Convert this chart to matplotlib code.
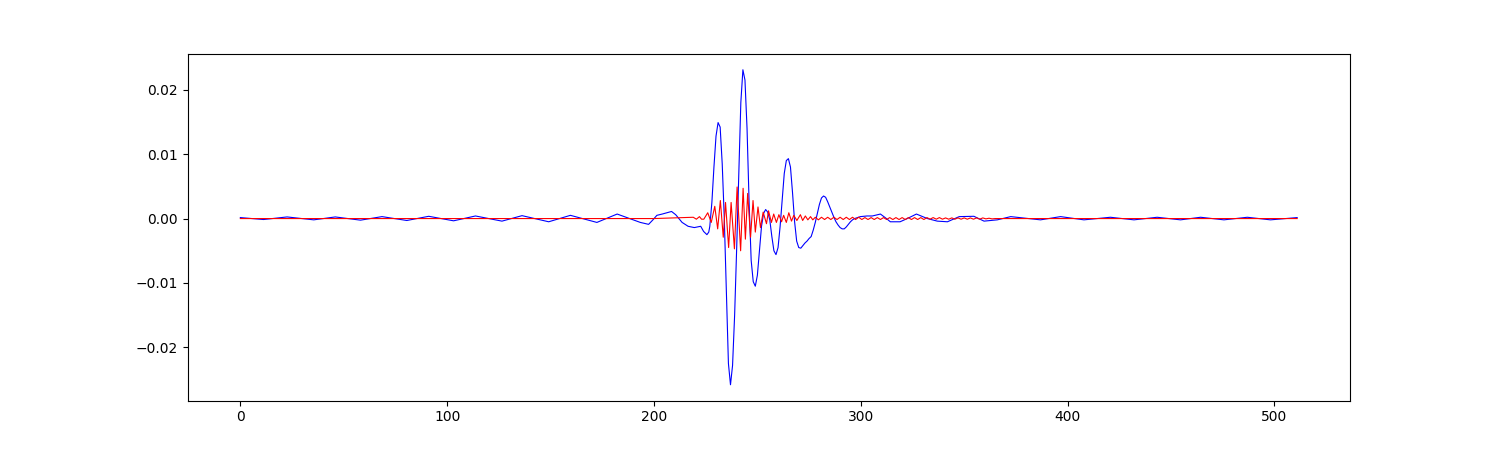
#two signals (blue = broadband, red = high frequency part)
import numpy as np
import matplotlib.pyplot as plt

#blue signal, left tail
blue_left_x = [0, 11.2, 22.6, 35.5, 45.9, 58.1, 68.5, 80.5, 91.1, 103.1, 113.7, 126.5, 136.2,
               149.1, 159.6, 172.4, 182.2, 193.4, 197.4, 199.5, 201.4, 204, 208.5, 210.5, 213.6,
               216.5, 219.5, 222.6, 224, 225.6, 226.5]
blue_left_y = [0.00015, -0.00015, 0.00025, -0.0002, 0.00025, -0.00025, 0.0003, -0.0003, 0.00035,
               -0.00035, 0.0004, -0.0004, 0.00045, -0.0005, 0.0005, -0.0006, 0.0007, -0.0006,
               -0.0009, -0.0002, 0.0005, 0.0007, 0.0011, 0.0006, -0.0006, -0.0012, -0.0014,
               -0.0012, -0.0020, -0.0025, -0.0021]

#blue signal, centre burst
blue_mid_x = [227, 228, 229, 230, 231, 232, 233, 234, 235, 236, 237, 238, 239, 240, 241, 242, 243,
              244, 245, 246, 247, 248, 249, 250, 251, 252, 253, 254, 255, 256, 257, 258, 259, 260,
              261, 262, 263, 264, 265, 266, 267, 268, 269, 270, 271, 272, 273, 274, 275, 276, 277,
              278, 279, 280, 281, 282, 283, 284, 285, 286, 287, 288, 289, 290, 291, 292, 293, 294,
              295, 296, 297]
blue_mid_y = [-0.0012, 0.0025, 0.0080, 0.0128, 0.0149, 0.0142, 0.0085, 0.0000, -0.0115, -0.0225,
              -0.0258, -0.0228, -0.0150, -0.0045, 0.0070, 0.0180, 0.0231, 0.0215, 0.0140, 0.0025,
              -0.0065, -0.0098, -0.0105, -0.0088, -0.0050, -0.0012, 0.0008, 0.0014, 0.0010,
              -0.0002, -0.0028, -0.0050, -0.0056, -0.0045, -0.0012, 0.0030, 0.0070, 0.0090,
              0.0093, 0.0080, 0.0040, -0.0005, -0.0035, -0.0045, -0.0046, -0.0042, -0.0038,
              -0.0035, -0.0031, -0.0028, -0.0018, -0.0006, 0.0008, 0.0022, 0.0032, 0.0035,
              0.0033, 0.0026, 0.0018, 0.0010, 0.0002, -0.0005, -0.0010, -0.0014, -0.0016,
              -0.0016, -0.0013, -0.0009, -0.0005, -0.0002, 0.0000]

#blue signal, right tail
blue_right_x = [299.8, 303, 305.6, 309.5, 312, 314.3, 319, 322.5, 326.9, 332.2, 337, 341.9, 347.6,
                354.7, 359.6, 366, 372.5, 386.9, 396.6, 407.9, 420.7, 432.1, 443.3, 454.6, 464.3,
                475.6, 486.9, 498.1, 511]
blue_right_y = [0.0003, 0.0004, 0.0004, 0.0007, 0.0001, -0.0005, -0.0005, 0.0, 0.0007, 0.0,
                -0.0004, -0.0005, 0.0003, 0.00035, -0.0004, -0.0002, 0.0003, -0.0002, 0.0003,
                -0.0002, 0.0002, -0.0002, 0.0002, -0.0002, 0.0002, -0.0002, 0.0002, -0.0002,
                0.00015]

#red signal, flat start and centre oscillation
red_mid_x = [0, 200, 219, 220.5, 222, 223, 224.1, 226.0, 227.7, 229.4, 230.8, 232.1, 233.5, 234.6,
             236.1, 237.3, 238.9, 240.2, 241.9, 243.1, 244.2, 245.3, 246.7, 247.9, 249.0, 250.3,
             251.5, 252.8, 254.4, 255.4, 256.8, 257.9, 259.2, 260.4, 261.7, 262.7, 264.0, 265.2,
             266.5, 267.6, 269.1, 270.8, 271.9, 273.2, 274.4, 275.7, 276.8]
red_mid_y = [0.0, 0.0, 0.0002, -0.0001, 0.0003, -0.0001, -0.0001, 0.0009, -0.0006, 0.0019,
             -0.0016, 0.0028, -0.0029, 0.0025, -0.0045, 0.0025, -0.0047, 0.0049, -0.0050, 0.0047,
             -0.0032, 0.0039, -0.0029, 0.0028, -0.0021, 0.0018, -0.0014, 0.0010, -0.0008, 0.0012,
             -0.0006, 0.0007, -0.0006, 0.0006, -0.0005, 0.0005, -0.0006, 0.0009, -0.0004, 0.0005,
             -0.0003, 0.0006, -0.0003, 0.0004, -0.0002, 0.0003, -0.0002]

#red signal, small ripple after the burst and flat end
red_right_x = [278.0, 279.5, 281.0, 282.5, 284.0, 285.5, 287.0, 288.5, 290.0, 291.5, 293.0, 294.5,
               296.0, 297.5, 299.0, 300.5, 302.0, 303.5, 305.0, 306.5, 308.0, 309.5, 311.0, 312.5,
               314.0, 315.5, 317.0, 318.5, 320.0, 321.5, 323.0, 324.5, 326.0, 327.5, 329.0, 330.5,
               332.0, 333.5, 335.0, 336.5, 338.0, 339.5, 341.0, 342.5, 344.0, 345.5, 347.0, 348.5,
               350.0, 351.5, 353.0, 354.5, 356.0, 357.5, 359.0, 360.5, 362.0, 363.5, 365.0, 511]
red_right_y = [0.0002, -0.0002, 0.0002, -0.00015, 0.0002, -0.00015, 0.0002, -0.00015, 0.0002,
               -0.00015, 0.0002, -0.00015, 0.0002, -0.00015, 0.0002, -0.00015, 0.00015, -0.00015,
               0.00015, -0.00015, 0.00015, -0.00015, 0.00015, -0.00015, 0.00015, -0.00015,
               0.00015, -0.00015, 0.00015, -0.00015, 0.00015, -0.00015, 0.00015, -0.00015,
               0.00015, -0.00015, 0.00015, -0.0001, 0.00015, -0.0001, 0.00015, -0.0001, 0.0001,
               -0.0001, 0.0001, -0.0001, 0.0001, -0.0001, 0.0001, -0.0001, 0.0001, -0.0001,
               0.0001, -0.0001, 0.0001, -0.00005, 0.00005, -0.00005, 0.0, 0.0]

blue_x = blue_left_x + blue_mid_x + blue_right_x
blue_y = blue_left_y + blue_mid_y + blue_right_y
red_x = red_mid_x + red_right_x
red_y = red_mid_y + red_right_y

plt.figure(figsize=(15, 4.5))
plt.plot(blue_x, blue_y, color='blue', linewidth=0.8)
plt.plot(red_x, red_y, color='red', linewidth=0.8)
plt.savefig('out.png', dpi=100)
